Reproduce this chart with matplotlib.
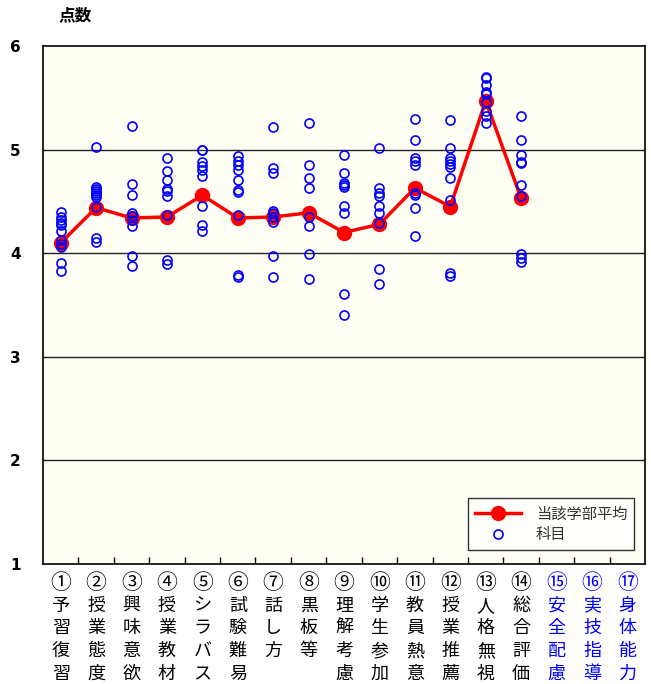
import matplotlib.pyplot as plt
import numpy as np

plt.rcParams['font.family'] = ['Noto Sans CJK JP', 'DejaVu Sans']

# 項目名
labels = ['①予習復習', '②授業態度', '③興味意欲', '④授業教材', '⑤シラバス',
          '⑥試験難易', '⑦話し方', '⑧黒板等', '⑨理解考慮', '⑩学生参加',
          '⑪教員熱意', '⑫授業推薦', '⑬人格無視', '⑭総合評価',
          '⑮安全配慮', '⑯実技指導', '⑰身体能力']
label_colors = ['black'] * 14 + ['blue'] * 3

# 当該学部平均
means = [4.10, 4.44, 4.34, 4.35, 4.56, 4.34, 4.35, 4.39, 4.20, 4.28,
         4.63, 4.45, 5.47, 4.53]

# 科目ごとの点数
subjects = [
    [4.40, 4.35, 4.32, 4.29, 4.27, 4.21, 4.13, 4.09, 4.06, 3.91, 3.83],
    [5.03, 4.64, 4.62, 4.60, 4.58, 4.56, 4.54, 4.45, 4.15, 4.11],
    [5.23, 4.67, 4.56, 4.39, 4.36, 4.32, 4.26, 3.97, 3.88],
    [4.92, 4.79, 4.71, 4.62, 4.60, 4.55, 4.37, 3.93, 3.90],
    [5.00, 5.00, 4.88, 4.84, 4.80, 4.75, 4.46, 4.27, 4.21],
    [4.94, 4.89, 4.85, 4.80, 4.71, 4.61, 4.59, 4.37, 3.79, 3.77],
    [5.22, 4.82, 4.77, 4.41, 4.39, 4.35, 4.30, 3.97, 3.77],
    [5.26, 4.85, 4.73, 4.63, 4.35, 4.26, 3.99, 3.75],
    [4.95, 4.77, 4.68, 4.66, 4.64, 4.46, 4.39, 3.61, 3.40],
    [5.02, 4.63, 4.58, 4.55, 4.46, 4.39, 4.29, 3.85, 3.70],
    [5.30, 5.09, 4.92, 4.89, 4.85, 4.58, 4.56, 4.44, 4.17],
    [5.29, 5.02, 4.92, 4.89, 4.86, 4.83, 4.73, 4.51, 3.81, 3.78],
    [5.70, 5.69, 5.62, 5.56, 5.54, 5.46, 5.37, 5.32, 5.26],
    [5.32, 5.09, 4.95, 4.88, 4.87, 4.66, 4.55, 3.99, 3.95, 3.92],
]

fig = plt.figure(figsize=(6.51, 6.84), dpi=100)
ax = fig.add_axes([0.066, 0.1754, 0.925, 0.7573])
ax.set_facecolor('#FFFFF5')

x_all = np.arange(1, len(labels) + 1)
x_mean = np.arange(1, len(means) + 1)

for y in [2, 3, 4, 5]:
    ax.axhline(y, color='#222222', lw=1.0, zorder=1)

ax.plot(x_mean, means, color='#FF0000', lw=2.5, marker='o', markersize=10,
        markerfacecolor='#FF0000', markeredgecolor='#FF0000', zorder=2,
        label='当該学部平均')

sx = np.concatenate([np.full(len(v), i + 1) for i, v in enumerate(subjects)])
sy = np.concatenate(subjects)
ax.plot(sx, sy, ls='none', marker='o', markersize=6.5, markerfacecolor='none',
        markeredgecolor='#0000FF', markeredgewidth=1.2, zorder=3, label='科目')

ax.set_xlim(0.5, len(labels) + 0.5)
ax.set_ylim(1, 6)
ax.set_yticks([1, 2, 3, 4, 5, 6])
ax.set_yticklabels(['1', '2', '3', '4', '5', '6'], fontsize=11,
                   fontweight='bold', family=['DejaVu Sans'])
ax.tick_params(axis='y', length=0, pad=16)

ax.set_xticks(x_all)
ax.set_xticklabels([])
ax.tick_params(axis='x', which='major', length=0)
ax.set_xticks(np.arange(1.5, len(labels), 1), minor=True)
ax.tick_params(axis='x', which='minor', direction='in', length=5, width=1)

for s in ax.spines.values():
    s.set_linewidth(1.2)

# 縦書きラベル（1文字ずつ配置）
ax_h = 518.0
row_step = 22.7
for xi, lab, c in zip(x_all, labels, label_colors):
    for k, ch in enumerate(lab):
        off = (19 + k * row_step) / ax_h
        fs = 15 if k == 0 else 13
        ax.text(xi, -off, ch, transform=ax.get_xaxis_transform(),
                ha='center', va='center', fontsize=fs, color=c)

ax.text(75 / 651, 1 - 15 / 684, '点数', transform=fig.transFigure,
        ha='center', va='center', fontsize=12, fontweight='bold')

leg = ax.legend(loc='lower right', bbox_to_anchor=(0.982, 0.027), fontsize=11,
                frameon=True, fancybox=False, edgecolor='black',
                handlelength=3.0, borderpad=0.45, labelspacing=0.25,
                borderaxespad=0, handletextpad=1.0)
leg.get_frame().set_linewidth(1.0)
for t in leg.get_texts():
    t.set_color('#333333')

fig.savefig('out.png', dpi=100)
